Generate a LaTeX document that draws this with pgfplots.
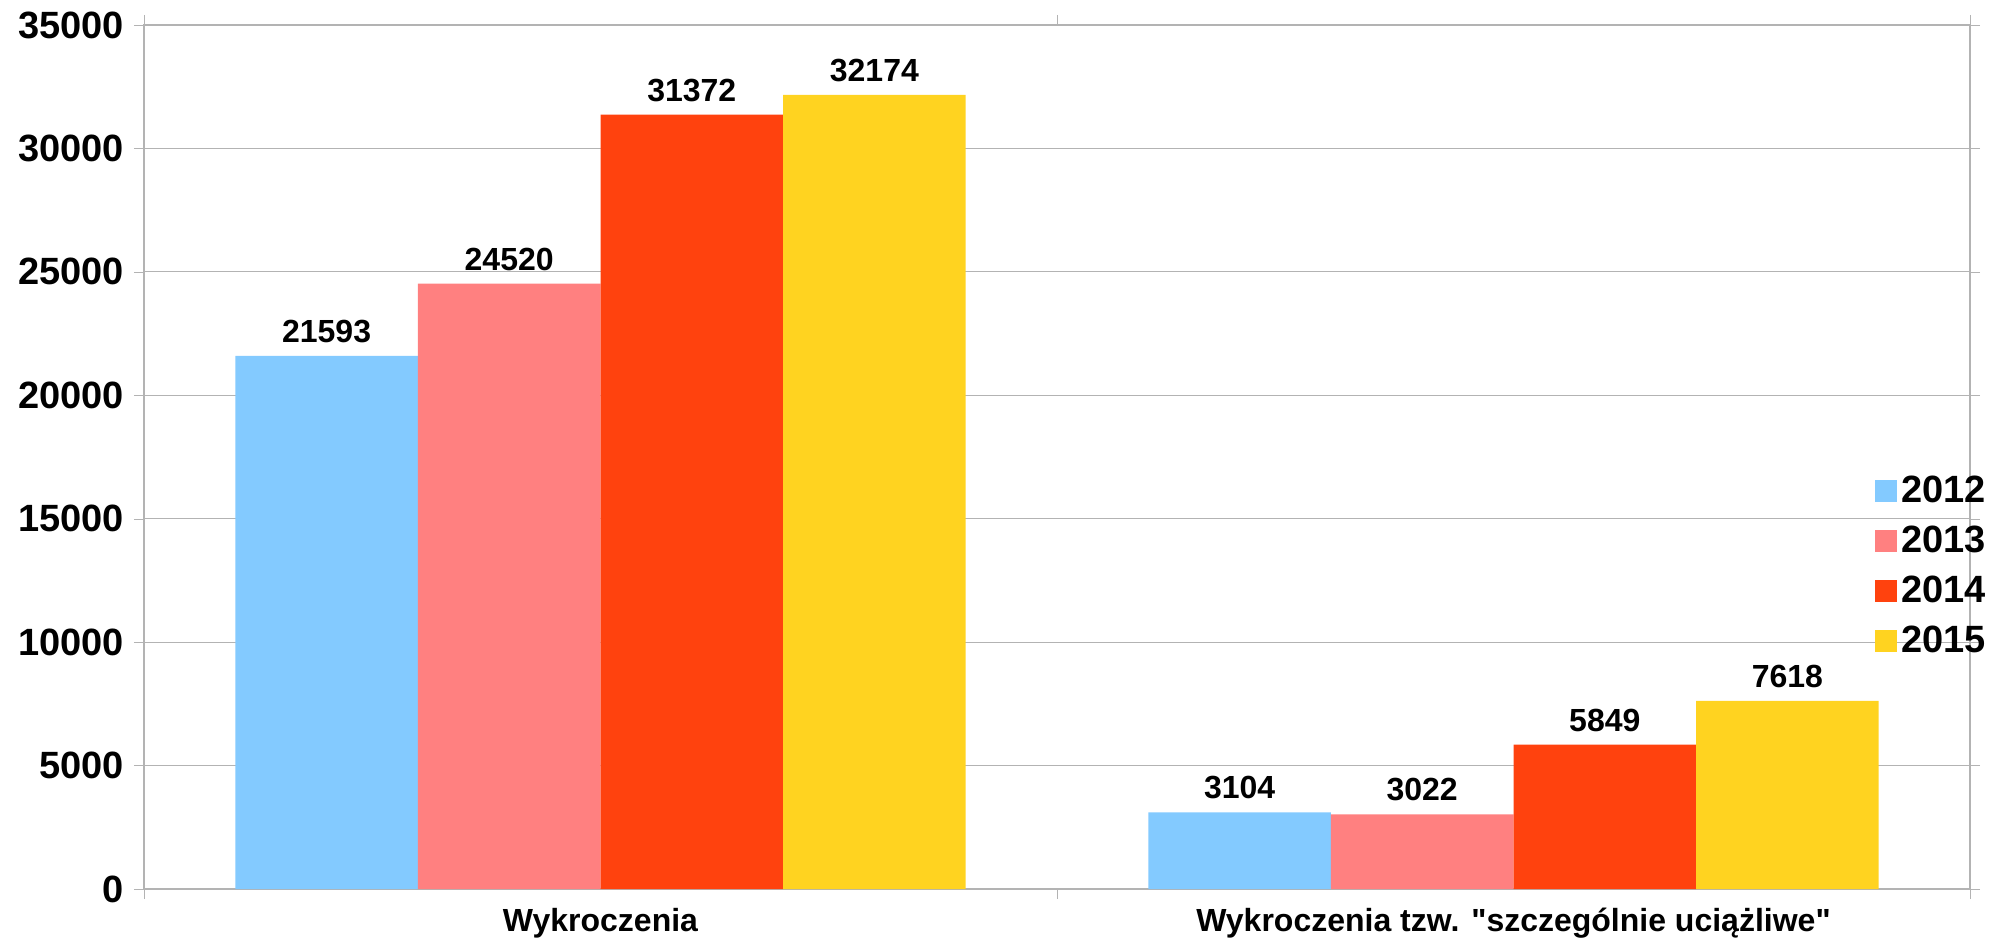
\documentclass[border=0pt]{standalone}
\usepackage{fontspec}
\setmainfont{Liberation Sans}
\newfontfamily\plainq{Liberation Sans}
\usepackage{pgfplots}
\pgfplotsset{compat=1.18}
\definecolor{c2012}{HTML}{83CAFF}
\definecolor{c2013}{HTML}{FF8080}
\definecolor{c2014}{HTML}{FF420E}
\definecolor{c2015}{HTML}{FFD320}
\definecolor{gridgray}{HTML}{B3B3B3}
\newcommand{\q}{{\plainq\bfseries"}}

\begin{document}
\begin{tikzpicture}
\begin{axis}[
  scale only axis,
  width=913pt, height=432pt,
  ybar=0pt, bar width=0.2,
  xmin=0, xmax=2,
  ymin=0, ymax=35000,
  xtick={0,1,2}, xticklabels={},
  extra x ticks={0.5,1.5},
  extra x tick labels={Wykroczenia, Wykroczenia tzw. \q szczególnie uciążliwe\q},
  extra x tick style={major tick length=0pt, grid=none,
    tick label style={font=\bfseries\fontsize{16}{18}\selectfont, yshift=-6pt}},
  ytick={0,5000,...,35000},
  scaled y ticks=false,
  yticklabel style={/pgf/number format/fixed, /pgf/number format/set thousands separator={},
    /pgf/number format/assume math mode=true, font=\bfseries\fontsize{19}{20}\selectfont, xshift=-1.5pt},
  tick align=outside, major tick length=5pt,
  tick style={gridgray},
  ymajorgrids, grid style={gridgray, line width=0.6pt},
  axis line style={gridgray, line width=0.8pt},
  nodes near coords,
  every node near coord/.append style={font=\bfseries\fontsize{16}{18}\selectfont, black, yshift=3pt,
    /pgf/number format/fixed, /pgf/number format/set thousands separator={}, /pgf/number format/assume math mode=true},
  legend style={at={(rel axis cs:0.948,0.374)}, anchor=west, draw=none, fill=none,
    font=\bfseries\fontsize{19}{21}\selectfont, row sep=6.2pt, inner sep=0pt,
    nodes={font=\bfseries\fontsize{19}{21}\selectfont, inner sep=2pt}},
  legend cell align=left,
  legend image code/.code={\fill[#1] (0pt,-5.5pt) rectangle (11pt,5.5pt);},
]
\addplot[fill=c2012, draw=none] coordinates {(0.5,21593) (1.5,3104)};
\addplot[fill=c2013, draw=none] coordinates {(0.5,24520) (1.5,3022)};
\addplot[fill=c2014, draw=none] coordinates {(0.5,31372) (1.5,5849)};
\addplot[fill=c2015, draw=none] coordinates {(0.5,32174) (1.5,7618)};
\legend{2012,2013,2014,2015}
\end{axis}
\pgfresetboundingbox
\path[use as bounding box] (-72pt,-27.5pt) rectangle (927.5pt,444.5pt);
\end{tikzpicture}
\end{document}
